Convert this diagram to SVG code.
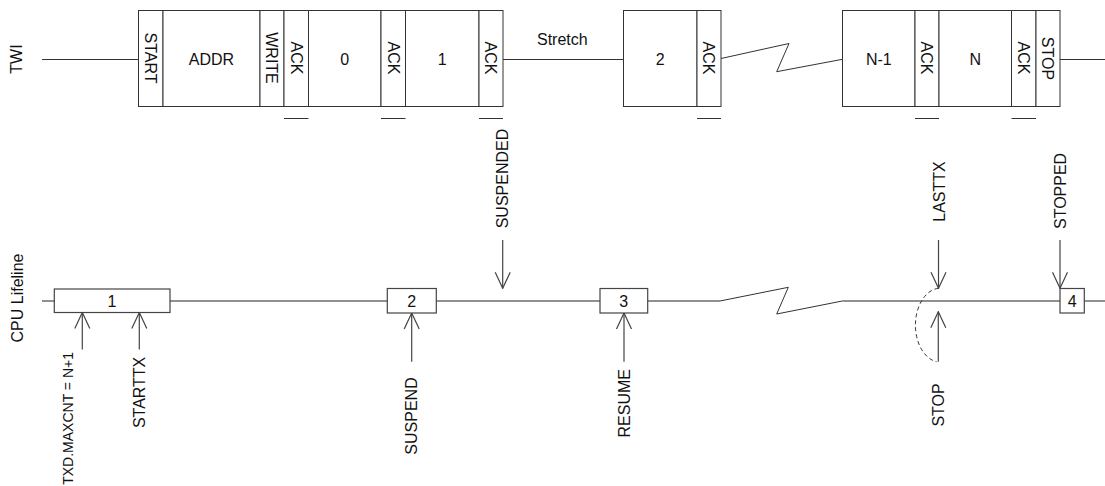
<svg xmlns="http://www.w3.org/2000/svg" width="1105" height="486" viewBox="0 0 1105 486">
<style>
text{font-family:"Liberation Sans",Arial,sans-serif;font-size:16px;fill:#111}
.c{text-anchor:middle}
.seg{fill:#fff;stroke:#333;stroke-width:1}
.wire{stroke:#333;stroke-width:1;fill:none}
.life{stroke:#6b6b6b;stroke-width:1.6;fill:none}
.box{fill:#fff;stroke:#444;stroke-width:1.2}
.arr{stroke:#444;stroke-width:1.2;fill:none;marker-end:url(#ah)}
.bar{stroke:#333;stroke-width:1}
</style>
<defs>
<marker id="ah" markerUnits="userSpaceOnUse" viewBox="-17 -9 18 18" refX="0" refY="0" markerWidth="18" markerHeight="18" orient="auto">
<path d="M-16,-7.5 L0,0 L-16,7.5" fill="none" stroke="#444" stroke-width="1.2"/>
</marker>
</defs>

<g id="labels">
<text class="c" transform="translate(16,59) rotate(-90)" dy="0.35em">TWI</text>
<text class="c" transform="translate(17,298) rotate(-90)" dy="0.35em">CPU Lifeline</text>
</g>

<g id="connectors">
<line class="wire" x1="42" y1="59.5" x2="138.5" y2="59.5"/>
<line class="wire" x1="503" y1="59.5" x2="623.5" y2="59.5"/>
<polyline class="wire" points="721,58.5 789,43.5 776.7,71.7 842.5,59.3"/>
<line class="wire" x1="1060" y1="59.5" x2="1105" y2="59.5"/>
<line class="life" x1="42" y1="301" x2="720" y2="301"/>
<polyline class="wire" points="720,301 788.3,287.3 776.7,314 842.3,301"/>
<line class="life" x1="842.3" y1="301" x2="1105" y2="301"/>
<line class="arr" x1="82.3" y1="349.5" x2="82.3" y2="312.5"/>
<line class="arr" x1="139.3" y1="349.5" x2="139.3" y2="312.5"/>
<line class="arr" x1="411.7" y1="361.7" x2="411.7" y2="313"/>
<line class="arr" x1="624" y1="361.7" x2="624" y2="313"/>
<line class="arr" x1="938.3" y1="361.7" x2="938.3" y2="311.7"/>
<line class="arr" x1="502.7" y1="240" x2="502.7" y2="288.3"/>
<line class="arr" x1="938.5" y1="240" x2="938.5" y2="288.3"/>
<line class="arr" x1="1060" y1="240" x2="1060" y2="288.3"/>
<path d="M938.3,288.3 A25,37 0 0 0 936.5,361.7" fill="none" stroke="#333" stroke-width="1" stroke-dasharray="4,3"/>
</g>

<g id="twi-start"><rect class="seg" x="138.5" y="10.5" width="24.5" height="96"/><text class="c" transform="translate(150.8,58) rotate(90)" dy="0.35em">START</text></g>
<g id="twi-addr"><rect class="seg" x="163" y="10.5" width="97" height="96"/><text class="c" x="211.5" y="59" dy="0.35em">ADDR</text></g>
<g id="twi-write"><rect class="seg" x="260" y="10.5" width="24" height="96"/><text class="c" transform="translate(272,58) rotate(90)" dy="0.35em">WRITE</text></g>
<g id="twi-ack1"><rect class="seg" x="284" y="10.5" width="24.5" height="96"/><text class="c" transform="translate(296.3,58) rotate(90)" dy="0.35em">ACK</text><line class="bar" x1="284" y1="118.5" x2="308.5" y2="118.5"/></g>
<g id="twi-d0"><rect class="seg" x="308.5" y="10.5" width="72.5" height="96"/><text class="c" x="344.8" y="59" dy="0.35em">0</text></g>
<g id="twi-ack2"><rect class="seg" x="381" y="10.5" width="24.5" height="96"/><text class="c" transform="translate(393.3,58) rotate(90)" dy="0.35em">ACK</text><line class="bar" x1="381" y1="118.5" x2="405.5" y2="118.5"/></g>
<g id="twi-d1"><rect class="seg" x="405.5" y="10.5" width="73.5" height="96"/><text class="c" x="442.3" y="59" dy="0.35em">1</text></g>
<g id="twi-ack3"><rect class="seg" x="479" y="10.5" width="24" height="96"/><text class="c" transform="translate(491,58) rotate(90)" dy="0.35em">ACK</text><line class="bar" x1="479" y1="118.5" x2="503" y2="118.5"/></g>
<g id="twi-stretch"><text x="537" y="45">Stretch</text></g>
<g id="twi-d2"><rect class="seg" x="623.5" y="10.5" width="73.5" height="96"/><text class="c" x="660.3" y="59" dy="0.35em">2</text></g>
<g id="twi-ack4"><rect class="seg" x="697" y="10.5" width="24" height="96"/><text class="c" transform="translate(709,58) rotate(90)" dy="0.35em">ACK</text><line class="bar" x1="697" y1="118.5" x2="721" y2="118.5"/></g>
<g id="twi-dn1"><rect class="seg" x="842.5" y="10.5" width="72.5" height="96"/><text class="c" x="878.8" y="59" dy="0.35em">N-1</text></g>
<g id="twi-ack5"><rect class="seg" x="915" y="10.5" width="24" height="96"/><text class="c" transform="translate(927,58) rotate(90)" dy="0.35em">ACK</text><line class="bar" x1="915" y1="118.5" x2="939" y2="118.5"/></g>
<g id="twi-dn"><rect class="seg" x="939" y="10.5" width="72.5" height="96"/><text class="c" x="975.3" y="59" dy="0.35em">N</text></g>
<g id="twi-ack6"><rect class="seg" x="1011.5" y="10.5" width="24.5" height="96"/><text class="c" transform="translate(1023.8,58) rotate(90)" dy="0.35em">ACK</text><line class="bar" x1="1011.5" y1="118.5" x2="1036" y2="118.5"/></g>
<g id="twi-stop"><rect class="seg" x="1036" y="10.5" width="24" height="96"/><text class="c" transform="translate(1048,58.5) rotate(90)" dy="0.35em">STOP</text></g>

<g id="cpu-1"><rect class="box" x="54.3" y="289" width="115.7" height="23.5"/><text class="c" x="112" y="301" dy="0.35em">1</text></g>
<g id="cpu-2"><rect class="box" x="387.3" y="288.5" width="49" height="24.5"/><text class="c" x="411.8" y="301" dy="0.35em">2</text></g>
<g id="cpu-3"><rect class="box" x="600" y="288.5" width="47.7" height="24.5"/><text class="c" x="623.8" y="301" dy="0.35em">3</text></g>
<g id="cpu-4"><rect class="box" x="1060" y="288.5" width="24.3" height="24.5"/><text class="c" x="1072.2" y="301" dy="0.35em">4</text></g>

<g id="ev-txd"><text transform="translate(68,352) rotate(-90)" dy="0.35em" text-anchor="end" style="font-size:14px">TXD.MAXCNT = N+1</text></g>
<g id="ev-starttx"><text transform="translate(139.2,356.7) rotate(-90)" dy="0.35em" text-anchor="end">STARTTX</text></g>
<g id="ev-suspend"><text transform="translate(411.7,377.3) rotate(-90)" dy="0.35em" text-anchor="end">SUSPEND</text></g>
<g id="ev-resume"><text transform="translate(624,369) rotate(-90)" dy="0.35em" text-anchor="end">RESUME</text></g>
<g id="ev-suspended"><text transform="translate(502,228.3) rotate(-90)" dy="0.35em">SUSPENDED</text></g>
<g id="ev-lasttx"><text transform="translate(939,221.7) rotate(-90)" dy="0.35em">LASTTX</text></g>
<g id="ev-stopped"><text transform="translate(1060,229) rotate(-90)" dy="0.35em">STOPPED</text></g>
<g id="ev-stop"><text transform="translate(938.3,383.3) rotate(-90)" dy="0.35em" text-anchor="end">STOP</text></g>
</svg>
